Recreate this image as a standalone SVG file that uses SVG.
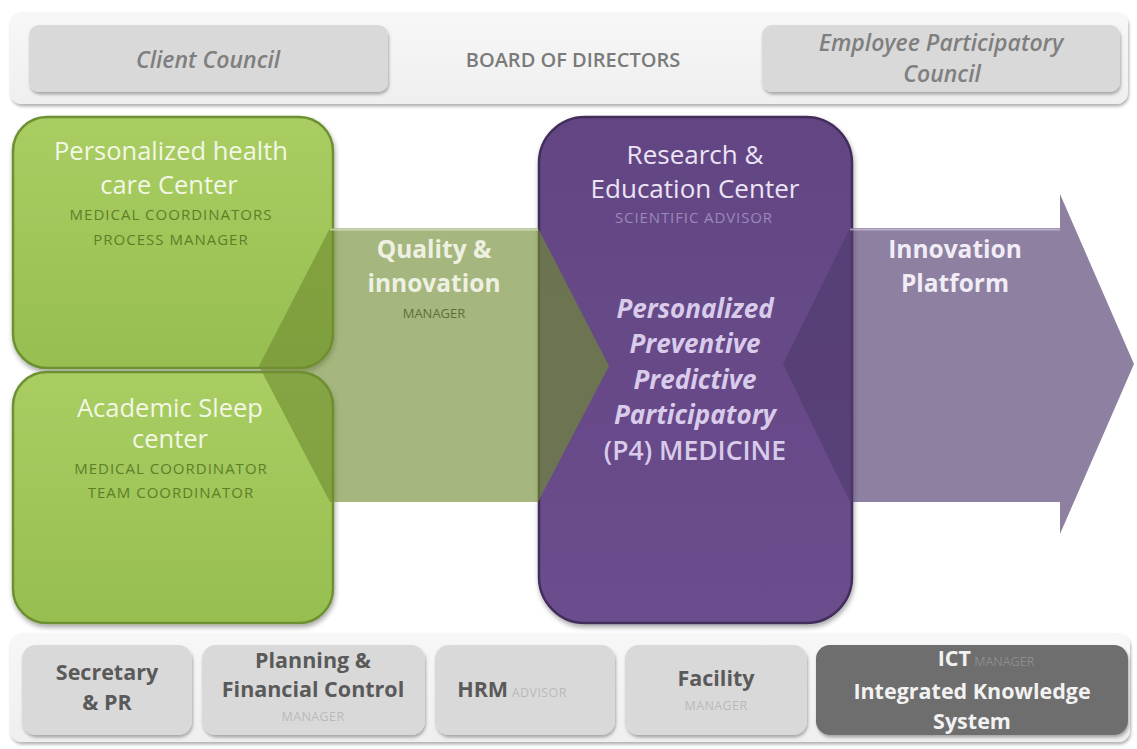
<svg xmlns="http://www.w3.org/2000/svg" width="1137" height="749" viewBox="0 0 1137 749">
  <defs>
    <linearGradient id="greenFill" x1="0" y1="0" x2="0" y2="1">
      <stop offset="0" stop-color="#a9cd62"/>
      <stop offset="1" stop-color="#97be50"/>
    </linearGradient>
    <linearGradient id="purpleFill" x1="0" y1="0" x2="0" y2="1">
      <stop offset="0" stop-color="#634584"/>
      <stop offset="1" stop-color="#6b4d8c"/>
    </linearGradient>
    <linearGradient id="barFill" x1="0" y1="0" x2="0" y2="1">
      <stop offset="0" stop-color="#f7f7f7"/>
      <stop offset="1" stop-color="#efefef"/>
    </linearGradient>
    <filter id="shadow" x="-10%" y="-10%" width="125%" height="130%">
      <feDropShadow dx="1" dy="3" stdDeviation="2.5" flood-color="#000000" flood-opacity="0.35"/>
    </filter>
    <filter id="softShadow" x="-5%" y="-10%" width="115%" height="140%">
      <feDropShadow dx="1" dy="2.5" stdDeviation="1.5" flood-color="#000000" flood-opacity="0.3"/>
    </filter>
  </defs>
  <style>
    text { font-family: "Open Sans", "Noto Sans", sans-serif; text-anchor: middle; }
    .bar { fill: url(#barFill); filter: url(#softShadow); }
    .pill { fill: #d9d9d9; filter: url(#softShadow); }
    .council { font-size: 23px; font-style: italic; font-weight: 600; fill: #7f7f7f; }
    .board { font-size: 20px; font-weight: 600; fill: #7a7a7a; }
    .greenBox { fill: url(#greenFill); stroke: #6c9030; stroke-width: 2.5; filter: url(#shadow); }
    .purpleBox { fill: url(#purpleFill); stroke: #432d5a; stroke-width: 2.5; filter: url(#shadow); }
    .gTitle { font-size: 25.5px; fill: #f2f7e4; }
    .gSub { font-size: 15px; fill: #5d7f28; letter-spacing: 1px; }
    .pTitle { font-size: 26px; fill: #ece4f4; }
    .pSub { font-size: 15px; fill: #9c88ba; letter-spacing: 0.9px; }
    .p4 { font-size: 26px; font-weight: 700; font-style: italic; fill: #d9cbea; }
    .p4m { font-size: 26.5px; font-weight: 600; fill: #d9cbea; }
    .arrowTitle { font-size: 24.5px; font-weight: 700; }
    .qTitle { fill: #eef1e2; }
    .qSub { font-size: 13px; fill: #5e6f38; }
    .iTitle { fill: #f1edf6; }
    .bTitle { font-size: 21.5px; font-weight: 700; fill: #5a5a5a; }
    .bSub { font-size: 12.5px; fill: #b9b9b9; letter-spacing: 0.4px; }
    .ictTitle { font-size: 21.5px; font-weight: 700; fill: #f2f2f2; }
    .ictSub { font-size: 12.5px; fill: #8c8c8c; }
  </style>

  <rect width="1137" height="749" fill="#ffffff"/>

  <!-- governance bar -->
  <g id="board-bar">
    <rect class="bar" x="10" y="12" width="1118" height="92" rx="12"/>
    <text class="board" x="573" y="67">BOARD OF DIRECTORS</text>
  </g>
  <g id="client-council">
    <rect class="pill" x="29" y="25" width="359" height="67" rx="10"/>
    <text class="council" x="208" y="68">Client Council</text>
  </g>
  <g id="employee-council">
    <rect class="pill" x="762" y="25" width="358" height="67" rx="10"/>
    <text class="council" x="941" y="51">Employee Participatory</text>
    <text class="council" x="942" y="82">Council</text>
  </g>

  <!-- care centres -->
  <g id="health-care-center">
    <rect class="greenBox" x="13" y="117" width="320" height="251" rx="34"/>
  </g>
  <g id="sleep-center">
    <rect class="greenBox" x="13" y="372" width="320" height="251" rx="34"/>
  </g>
  <g id="research-center">
    <rect class="purpleBox" x="539" y="117" width="313" height="506" rx="46"/>
  </g>

  <!-- flow arrows -->
  <g id="connectors">
    <polygon id="quality-arrow" points="259,366 330,228 538,228 609,366 538,502 330,502" fill="#718d33" fill-opacity="0.63"/>
    <line x1="330" y1="229.5" x2="538" y2="229.5" stroke="#dfe6cf" stroke-width="2" stroke-opacity="0.7"/>
    <polygon id="innovation-arrow" points="783,364 850,228 1060,228 1060,194 1134,364 1060,534 1060,502 850,502" fill="#503c6e" fill-opacity="0.65"/>
    <line x1="850" y1="229.5" x2="1060" y2="229.5" stroke="#d8d0e4" stroke-width="2" stroke-opacity="0.6"/>
  </g>

  <!-- labels -->
  <g id="health-care-center-label">
    <text class="gTitle" x="171" y="160">Personalized health</text>
    <text class="gTitle" x="169" y="194">care Center</text>
    <text class="gSub" x="171" y="220">MEDICAL COORDINATORS</text>
    <text class="gSub" x="171" y="245">PROCESS MANAGER</text>
  </g>
  <g id="sleep-center-label">
    <text class="gTitle" x="170" y="417">Academic Sleep</text>
    <text class="gTitle" x="170" y="448">center</text>
    <text class="gSub" x="171" y="474">MEDICAL COORDINATOR</text>
    <text class="gSub" x="171" y="498">TEAM COORDINATOR</text>
  </g>
  <g id="quality-label">
    <text class="arrowTitle qTitle" x="434" y="258">Quality &amp;</text>
    <text class="arrowTitle qTitle" x="434" y="292">innovation</text>
    <text class="qSub" x="434" y="318">MANAGER</text>
  </g>
  <g id="research-center-label">
    <text class="pTitle" x="695" y="164">Research &amp;</text>
    <text class="pTitle" x="695" y="198">Education Center</text>
    <text class="pSub" x="694" y="223">SCIENTIFIC ADVISOR</text>
    <text class="p4" x="695" y="318">Personalized</text>
    <text class="p4" x="695" y="353">Preventive</text>
    <text class="p4" x="695" y="389">Predictive</text>
    <text class="p4" x="695" y="424">Participatory</text>
    <text class="p4m" x="695" y="460">(P4) MEDICINE</text>
  </g>
  <g id="innovation-label">
    <text class="arrowTitle iTitle" x="955" y="258">Innovation</text>
    <text class="arrowTitle iTitle" x="955" y="292">Platform</text>
  </g>

  <!-- support services bar -->
  <g id="support-bar">
    <rect class="bar" x="10" y="633" width="1120" height="109" rx="12"/>
  </g>
  <g id="secretary">
    <rect class="pill" x="22" y="645" width="170" height="90" rx="14"/>
    <text class="bTitle" x="107" y="680">Secretary</text>
    <text class="bTitle" x="107" y="710">&amp; PR</text>
  </g>
  <g id="planning">
    <rect class="pill" x="202" y="645" width="223" height="90" rx="14"/>
    <text class="bTitle" x="313" y="668">Planning &amp;</text>
    <text class="bTitle" x="313" y="697">Financial Control</text>
    <text class="bSub" x="313" y="721">MANAGER</text>
  </g>
  <g id="hrm">
    <rect class="pill" x="435" y="645" width="180" height="90" rx="14"/>
    <text x="512" y="697"><tspan class="bTitle">HRM</tspan><tspan class="bSub"> ADVISOR</tspan></text>
  </g>
  <g id="facility">
    <rect class="pill" x="625" y="645" width="182" height="90" rx="14"/>
    <text class="bTitle" x="716" y="686">Facility</text>
    <text class="bSub" x="716" y="710">MANAGER</text>
  </g>
  <g id="ict">
    <rect x="816" y="645" width="312" height="90" rx="14" fill="#6e6e6e" filter="url(#softShadow)"/>
    <text x="986" y="666"><tspan class="ictTitle">ICT</tspan><tspan class="ictSub"> MANAGER</tspan></text>
    <text class="ictTitle" x="972" y="699">Integrated Knowledge</text>
    <text class="ictTitle" x="972" y="729">System</text>
  </g>
</svg>
